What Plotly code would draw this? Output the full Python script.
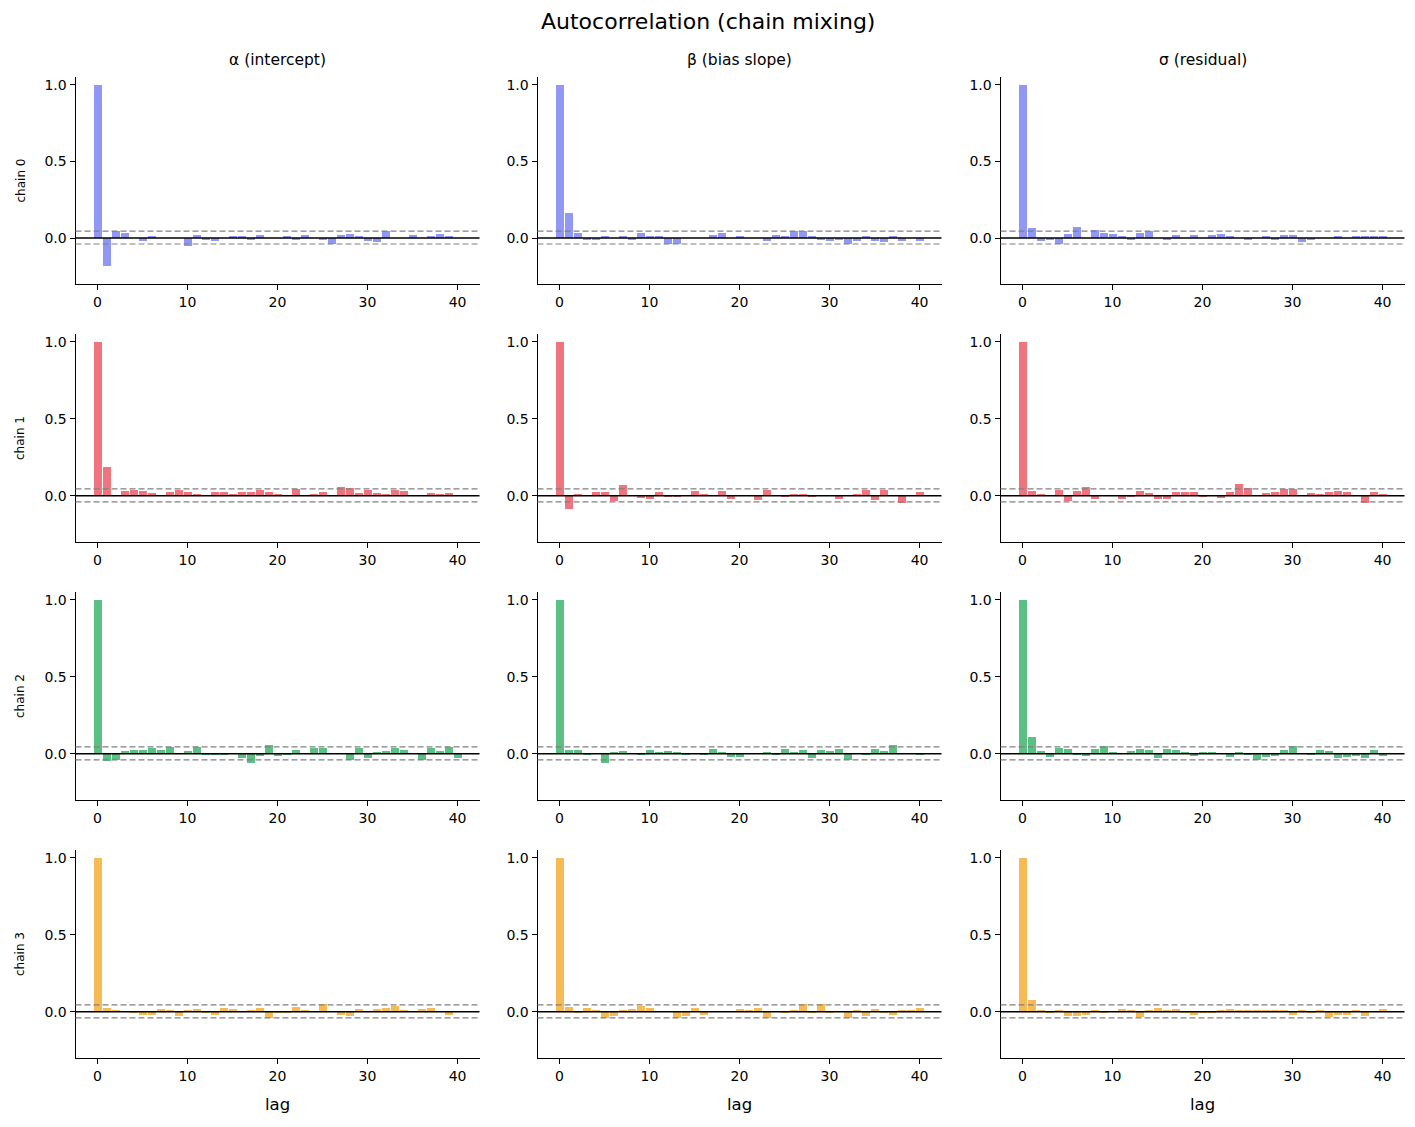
import plotly.graph_objects as go
from plotly.subplots import make_subplots

lags = list(range(41))
params = ["α (intercept)", "β (bias slope)", "σ (residual)"]
chains = ["chain 0", "chain 1", "chain 2", "chain 3"]
chain_colors = ["#9197f5", "#f0747e", "#5cbf83", "#f7bb55"]
band_upper = 0.045
band_lower = -0.039
y_ticks = [0.0, 0.5, 1.0]
y_ticktext = ["0.0", "0.5", "1.0"]
x_ticks = [0, 10, 20, 30, 40]

alpha_c0 = [1.0, -0.18, 0.046, 0.035, 0.0, -0.022, 0.015, 0.0, 0.0, 0.0, -0.05, 0.022, -0.015, -0.022, 0.0,
            0.008, 0.008, -0.008, 0.022, 0.0, 0.0, 0.008, -0.015, 0.022, 0.0, -0.008, -0.04, 0.022, 0.028,
            0.008, -0.022, -0.028, 0.046, 0.0, 0.0, 0.022, 0.0, 0.008, 0.028, 0.015, 0.0]
beta_c0 = [1.0, 0.166, 0.035, -0.008, -0.015, 0.008, 0.0, 0.008, -0.015, 0.035, 0.008, 0.008, -0.04, -0.04, 0.0,
           0.0, 0.0, 0.022, 0.035, 0.0, 0.015, 0.0, 0.0, -0.022, 0.022, 0.008, 0.046, 0.046, 0.015, -0.015,
           -0.022, -0.008, -0.04, -0.022, 0.008, -0.022, -0.028, 0.008, -0.022, 0.0, -0.022]
sigma_c0 = [1.0, 0.068, -0.022, -0.008, -0.037, 0.028, 0.074, 0.0, 0.054, 0.035, 0.028, 0.008, -0.008, 0.035,
            0.046, 0.0, -0.008, 0.022, 0.0, 0.022, 0.0, 0.022, 0.028, 0.008, 0.0, -0.008, 0.0, 0.008, -0.015,
            0.022, 0.022, -0.028, -0.008, 0.0, 0.0, 0.015, 0.0, 0.008, 0.008, 0.008, 0.015]

alpha_c1 = [1.0, 0.19, 0.0, 0.028, 0.035, 0.028, 0.015, 0.0, 0.022, 0.035, 0.022, 0.008, 0.0, 0.022, 0.022,
            0.008, 0.022, 0.022, 0.035, 0.022, 0.008, 0.0, 0.041, 0.0, 0.008, 0.022, 0.0, 0.054, 0.048, 0.015,
            0.035, 0.015, 0.008, 0.035, 0.028, 0.0, 0.0, 0.015, 0.008, 0.015, 0.0]
beta_c1 = [1.0, -0.083, 0.008, 0.0, 0.022, 0.022, -0.037, 0.068, 0.0, -0.017, -0.024, 0.022, -0.008, -0.008,
           0.0, 0.028, 0.008, 0.0, 0.028, -0.024, 0.0, 0.0, -0.03, 0.035, 0.0, -0.008, 0.008, 0.008, -0.008,
           0.0, 0.0, -0.024, 0.0, 0.008, 0.035, -0.03, 0.035, 0.0, -0.05, 0.0, 0.022]
sigma_c1 = [1.0, 0.028, 0.008, 0.0, 0.035, -0.037, 0.028, 0.054, -0.024, 0.0, 0.0, -0.024, -0.008, 0.028,
            0.015, -0.024, -0.024, 0.022, 0.022, 0.022, -0.008, 0.0, -0.017, 0.022, 0.074, 0.048, 0.0, 0.015,
            0.022, 0.041, 0.041, 0.0, 0.015, 0.008, 0.022, 0.028, 0.022, 0.0, -0.044, 0.022, 0.008]

alpha_c2 = [1.0, -0.05, -0.04, 0.015, 0.022, 0.022, 0.035, 0.022, 0.041, 0.0, 0.015, 0.041, -0.01, -0.01,
            -0.01, 0.0, -0.03, -0.057, -0.017, 0.054, -0.017, -0.01, 0.022, 0.0, 0.035, 0.035, 0.0, 0.0,
            -0.04, 0.035, -0.03, 0.008, 0.015, 0.035, 0.022, 0.0, -0.04, 0.035, 0.015, 0.041, -0.03]
beta_c2 = [1.0, 0.022, 0.022, -0.01, 0.0, -0.057, 0.008, 0.015, 0.0, -0.01, 0.022, 0.008, 0.015, 0.008, -0.01,
           0.0, -0.01, 0.028, 0.008, -0.024, -0.024, 0.0, 0.0, 0.008, -0.01, 0.028, 0.008, 0.022, -0.03,
           0.022, 0.015, 0.028, -0.04, 0.0, -0.01, 0.028, 0.015, 0.054, 0.0, 0.0, -0.01]
sigma_c2 = [1.0, 0.107, 0.015, -0.024, 0.035, 0.028, -0.01, -0.017, 0.028, 0.048, 0.008, 0.0, 0.015, 0.028,
            0.022, -0.03, 0.028, 0.022, 0.008, -0.017, 0.008, 0.008, 0.0, -0.024, 0.008, -0.01, -0.04, -0.024,
            -0.017, 0.022, 0.048, 0.0, -0.01, 0.022, 0.015, -0.03, -0.024, -0.017, -0.03, 0.022, -0.017]

alpha_c3 = [1.0, 0.026, 0.007, 0.0, -0.01, -0.02, -0.02, 0.02, 0.013, -0.026, 0.007, 0.02, -0.01, -0.02,
            0.026, 0.02, 0.0, 0.007, 0.026, -0.039, -0.01, -0.01, 0.033, 0.013, 0.0, 0.052, 0.0, -0.02,
            -0.026, 0.02, 0.0, 0.02, 0.026, 0.039, 0.013, 0.0, 0.02, 0.026, 0.0, -0.02, 0.0]
beta_c3 = [1.0, 0.033, -0.01, 0.026, 0.013, -0.039, -0.026, 0.013, 0.02, 0.039, 0.026, 0.0, 0.0, -0.039,
           -0.026, 0.026, -0.02, 0.0, 0.0, 0.0, 0.02, 0.007, 0.026, -0.039, 0.0, -0.01, 0.007, 0.052, -0.01,
           0.052, -0.01, 0.0, -0.039, 0.007, -0.026, 0.02, -0.01, -0.02, 0.013, 0.007, 0.026]
sigma_c3 = [1.0, 0.078, 0.013, -0.01, 0.013, -0.026, -0.026, -0.02, 0.013, -0.01, 0.0, 0.02, 0.007, -0.033,
            0.007, 0.026, 0.013, 0.02, -0.01, -0.02, -0.01, -0.01, 0.013, 0.02, 0.007, 0.013, 0.013, 0.013,
            0.007, 0.013, -0.02, 0.007, -0.01, 0.013, -0.033, -0.02, -0.02, 0.013, -0.026, 0.0, 0.02]

acf = [
    [alpha_c0, beta_c0, sigma_c0],
    [alpha_c1, beta_c1, sigma_c1],
    [alpha_c2, beta_c2, sigma_c2],
    [alpha_c3, beta_c3, sigma_c3],
]

W, H = 1415, 1127
FONT = "DejaVu Sans"
col_px = [(75.5, 479.5), (537.5, 941.5), (1000.5, 1404.5)]
row_px = [(77, 284), (334, 542), (592, 800), (850, 1058)]

fig = make_subplots(rows=4, cols=3)
shapes = []
annotations = []
for r in range(4):
    for c in range(3):
        i = r * 3 + c + 1
        fig.add_trace(go.Bar(x=lags, y=acf[r][c], width=0.8, marker=dict(color=chain_colors[r], line=dict(width=0)),
                             showlegend=False, hoverinfo="x+y"), row=r + 1, col=c + 1)
        xa = "xaxis" if i == 1 else f"xaxis{i}"
        ya = "yaxis" if i == 1 else f"yaxis{i}"
        xr = "x" if i == 1 else f"x{i}"
        yr = "y" if i == 1 else f"y{i}"
        fig.layout[xa].update(domain=[col_px[c][0] / W, col_px[c][1] / W], range=[-2.44, 42.44],
                              tickvals=x_ticks, showline=True, linecolor="black", linewidth=1,
                              ticks="outside", ticklen=5, tickcolor="black", showgrid=False, zeroline=False,
                              tickfont=dict(family=FONT, size=14, color="black"))
        fig.layout[ya].update(domain=[1 - row_px[r][1] / H, 1 - row_px[r][0] / H], range=[-0.3, 1.05],
                              tickvals=y_ticks, ticktext=y_ticktext, showline=True, linecolor="black",
                              linewidth=1, ticks="outside", ticklen=5, tickcolor="black", showgrid=False,
                              zeroline=False, tickfont=dict(family=FONT, size=14, color="black"))
        for val, col, dash, w in [(band_upper, "#808080", "6px,3px", 1.2), (band_lower, "#808080", "6px,3px", 1.2),
                                  (0.0, "black", "solid", 1.5)]:
            shapes.append(dict(type="line", xref=f"{xr} domain", yref=yr, x0=0, x1=1, y0=val, y1=val,
                               line=dict(color=col, width=w, dash=dash)))

for c in range(3):
    cx = (col_px[c][0] + col_px[c][1]) / 2 / W
    annotations.append(dict(text=params[c], x=cx, y=1 - 60 / H, xref="paper", yref="paper", showarrow=False,
                            xanchor="center", yanchor="middle", font=dict(family=FONT, size=15.5, color="black")))
    annotations.append(dict(text="lag", x=cx, y=1 - 1104 / H, xref="paper", yref="paper", showarrow=False,
                            xanchor="center", yanchor="middle", font=dict(family=FONT, size=16.5, color="black")))
for r in range(4):
    cy = 1 - (row_px[r][0] + row_px[r][1]) / 2 / H
    annotations.append(dict(text=chains[r], x=20 / W, y=cy, xref="paper", yref="paper", showarrow=False,
                            textangle=-90, xanchor="center", yanchor="middle",
                            font=dict(family=FONT, size=12, color="black")))
annotations.append(dict(text="Autocorrelation (chain mixing)", x=0.5, y=1 - 22 / H, xref="paper", yref="paper",
                        showarrow=False, xanchor="center", yanchor="middle",
                        font=dict(family=FONT, size=22, color="black")))

fig.update_layout(width=W, height=H, margin=dict(l=0, r=0, t=0, b=0), plot_bgcolor="white",
                  paper_bgcolor="white", shapes=shapes, annotations=annotations, bargap=0,
                  font=dict(family=FONT, color="black"))
fig.write_html("out.html")
